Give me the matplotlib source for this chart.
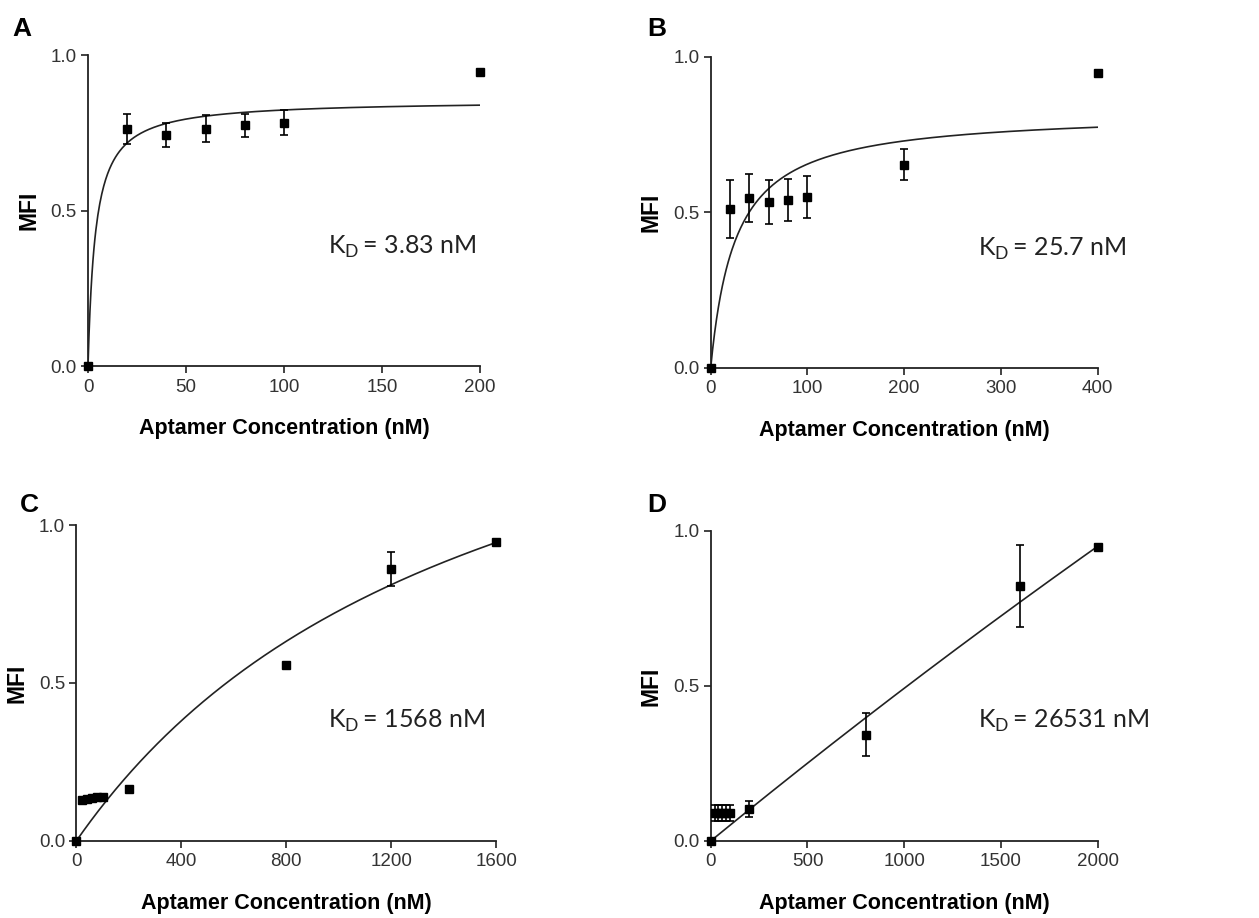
import numpy as np
import matplotlib
matplotlib.use("Agg")
import matplotlib.pyplot as plt
from matplotlib import font_manager

plt.rcParams['mathtext.fontset'] = 'custom'
plt.rcParams['mathtext.rm'] = 'Lato'

# 刻度字体：优先使用窄体
names = {f.name for f in font_manager.fontManager.ttflist}
if 'Liberation Sans Narrow' in names:
    TICK_FONT, TICK_SIZE = 'Liberation Sans Narrow', 14.5
else:
    TICK_FONT, TICK_SIZE = 'Liberation Sans', 13.5

# 数据：每个面板的浓度、MFI均值与误差
conc_A = [0, 20, 40, 60, 80, 100, 200]
mfi_A = [0.0, 0.762, 0.743, 0.763, 0.774, 0.783, 0.945]
err_A = [0.0, 0.048, 0.040, 0.044, 0.036, 0.040, 0.0]

conc_B = [0, 20, 40, 60, 80, 100, 200, 400]
mfi_B = [0.0, 0.510, 0.547, 0.532, 0.539, 0.549, 0.653, 0.947]
err_B = [0.0, 0.094, 0.077, 0.070, 0.067, 0.068, 0.050, 0.0]

conc_C = [0, 20, 40, 60, 80, 100, 200, 800, 1200, 1600]
mfi_C = [0.0, 0.130, 0.134, 0.137, 0.139, 0.140, 0.164, 0.557, 0.861, 0.945]
err_C = [0.0, 0.004, 0.004, 0.004, 0.004, 0.004, 0.004, 0.006, 0.054, 0.0]

conc_D = [0, 20, 40, 60, 80, 100, 200, 800, 1600, 2000]
mfi_D = [0.0, 0.091, 0.091, 0.091, 0.091, 0.091, 0.103, 0.342, 0.822, 0.947]
err_D = [0.0, 0.025, 0.025, 0.025, 0.025, 0.025, 0.027, 0.069, 0.133, 0.0]

# 拟合参数 (one-site binding: Bmax*x/(Kd+x))
kd_values = [3.83, 25.7, 1568, 26531]
bmax_values = [0.855, 0.823, 1.871, 13.55]
kd_labels = ['3.83', '25.7', '1568', '26531']
panel_letters = ['A', 'B', 'C', 'D']
x_max = [200, 400, 1600, 2000]
x_ticks = [[0, 50, 100, 150, 200], [0, 100, 200, 300, 400],
           [0, 400, 800, 1200, 1600], [0, 500, 1000, 1500, 2000]]

data = [(conc_A, mfi_A, err_A), (conc_B, mfi_B, err_B),
        (conc_C, mfi_C, err_C), (conc_D, mfi_D, err_D)]

FIG_W, FIG_H = 1259, 918
# 轴的位置 [left, bottom, width, height]
positions = [
    [0.0699, 0.6013, 0.3114, 0.3387],
    [0.5645, 0.5995, 0.3074, 0.3387],
    [0.0606, 0.0839, 0.3336, 0.3442],
    [0.5645, 0.0839, 0.3074, 0.3380],
]
letter_pos = [(0.010, 0.968), (0.514, 0.968), (0.016, 0.450), (0.514, 0.450)]
kd_text_pos = [(0.612, 0.36), (0.69, 0.36), (0.60, 0.358), (0.69, 0.364)]

fig = plt.figure(figsize=(12.59, 9.18), dpi=100)

for i in range(4):
    ax = fig.add_axes(positions[i])
    x, y, e = data[i]
    xs = np.linspace(0, x_max[i], 400)
    ax.plot(xs, bmax_values[i] * xs / (kd_values[i] + xs), color='#222222', lw=1.2)
    ax.errorbar(x, y, yerr=e, fmt='s', color='black', ms=5.5, capsize=3,
                elinewidth=1.2, capthick=1.2, clip_on=False, zorder=3)
    ax.set_xlim(0, x_max[i])
    ax.set_ylim(0, 1.0)
    ax.set_xticks(x_ticks[i])
    ax.set_yticks([0.0, 0.5, 1.0])
    ax.set_yticklabels(['0.0', '0.5', '1.0'])
    for s in ['top', 'right']:
        ax.spines[s].set_visible(False)
    for s in ['left', 'bottom']:
        ax.spines[s].set_linewidth(1.3)
        ax.spines[s].set_color('#222222')
    ax.tick_params(direction='out', length=5, width=1.2, colors='#222222',
                   labelsize=TICK_SIZE, labelcolor='#333333')
    ax.tick_params(axis='x', pad=4)
    ax.tick_params(axis='y', pad=3)
    for lab in ax.get_xticklabels() + ax.get_yticklabels():
        lab.set_family(TICK_FONT)
    ax.set_xlabel('Aptamer Concentration (nM)', fontsize=15.5, fontweight='bold',
                  family='Liberation Sans')
    h_px = positions[i][3] * FIG_H
    ax.xaxis.set_label_coords(0.5, -52 / h_px)
    ax.set_ylabel('MFI', fontsize=16.5, fontweight='bold', family='Liberation Sans')
    w_px = positions[i][2] * FIG_W
    ax.yaxis.set_label_coords(-48 / w_px, 0.5)
    ax.text(kd_text_pos[i][0], kd_text_pos[i][1],
            r'K$_\mathrm{D}\,$= ' + kd_labels[i] + ' nM', va='baseline',
            transform=ax.transAxes, fontsize=18, family='Lato', color='#222222')
    fig.text(letter_pos[i][0], letter_pos[i][1], panel_letters[i], fontsize=19,
             fontweight='bold', family='Liberation Sans', va='center')

fig.savefig('out.png', dpi=100)
